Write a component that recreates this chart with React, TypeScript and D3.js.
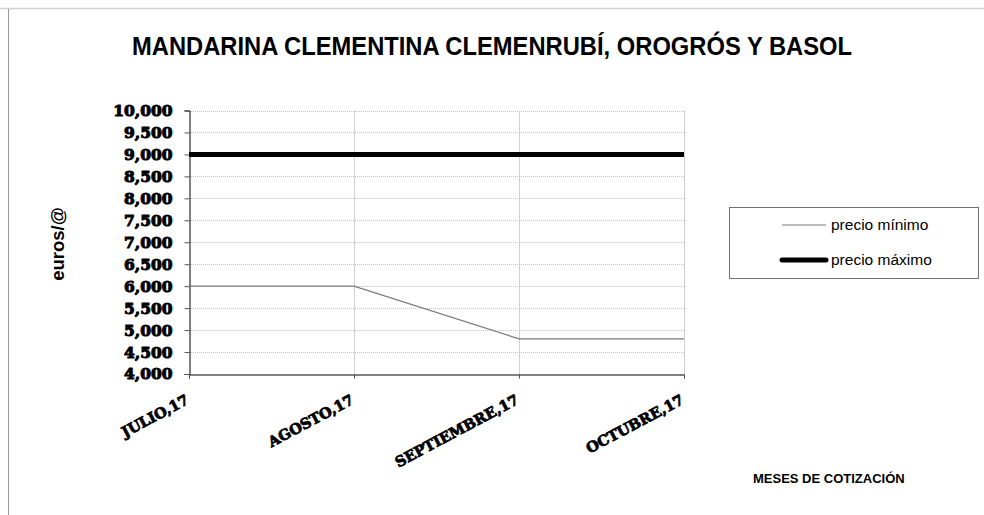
import React, { useEffect, useRef } from 'react';
import * as d3 from 'd3';

const months = ['JULIO,17', 'AGOSTO,17', 'SEPTIEMBRE,17', 'OCTUBRE,17'];
const precioMinimo = [6000, 6000, 4800, 4800];
const precioMaximo = [9000, 9000, 9000, 9000];
const yTicks = [4000, 4500, 5000, 5500, 6000, 6500, 7000, 7500, 8000, 8500, 9000, 9500, 10000];

const W = 984;
const H = 515;
const margin = { left: 189, right: 300, top: 110.5, bottom: 141 };

const fmt = d3.format(',');

const App = () => {
  const svgRef = useRef<SVGSVGElement>(null);

  useEffect(() => {
    if (!svgRef.current) return;
    const svg = d3.select(svgRef.current);
    svg.selectAll('*').remove();

    const x = d3.scalePoint<string>().domain(months).range([margin.left, W - margin.right]);
    const y = d3.scaleLinear().domain([4000, 10000]).range([H - margin.bottom, margin.top]);

    // chart area border
    svg.append('line').attr('x1', 0).attr('x2', W).attr('y1', 8.5).attr('y2', 8.5)
      .attr('stroke', '#d0d0d0').attr('stroke-width', 1.5);
    svg.append('line').attr('x1', 8.5).attr('x2', 8.5).attr('y1', 9).attr('y2', H)
      .attr('stroke', '#9a9a9a').attr('stroke-width', 1);

    // title
    svg.append('text')
      .attr('x', 492).attr('y', 55)
      .attr('text-anchor', 'middle')
      .attr('font-family', '"Liberation Sans", Arial, sans-serif')
      .attr('font-weight', 'bold')
      .attr('font-size', 25)
      .attr('textLength', 720)
      .attr('lengthAdjust', 'spacingAndGlyphs')
      .text('MANDARINA CLEMENTINA CLEMENRUBÍ, OROGRÓS Y BASOL');

    // horizontal dotted gridlines
    svg.append('g').selectAll('line').data(yTicks.slice(1)).enter().append('line')
      .attr('x1', margin.left).attr('x2', W - margin.right)
      .attr('y1', d => Math.round(y(d)) + 0.5).attr('y2', d => Math.round(y(d)) + 0.5)
      .attr('stroke', '#c4c4c4').attr('stroke-dasharray', '1,1');

    // vertical gridlines
    svg.append('g').selectAll('line').data(months.slice(1)).enter().append('line')
      .attr('x1', d => Math.round(x(d)!) + 0.5).attr('x2', d => Math.round(x(d)!) + 0.5)
      .attr('y1', margin.top).attr('y2', H - margin.bottom)
      .attr('stroke', '#d0d0d0');

    // y axis
    const yAxis = svg.append('g').attr('transform', `translate(${margin.left + 0.5},0)`)
      .call(d3.axisLeft(y).tickValues(yTicks).tickSize(5).tickPadding(12).tickFormat(d => fmt(d as number)));
    yAxis.select('.domain').attr('stroke', '#000');
    yAxis.selectAll('.tick line').attr('stroke', '#555');
    yAxis.selectAll('text')
      .attr('font-family', '"DejaVu Serif", serif')
      .attr('font-weight', 'bold')
      .attr('font-size', 15.5)
      .attr('fill', '#000')
      .attr('stroke', '#000').attr('stroke-width', 1);

    // x axis
    const xAxis = svg.append('g').attr('transform', `translate(0,${H - margin.bottom + 0.5})`)
      .call(d3.axisBottom(x).tickSize(4).tickFormat(() => ''));
    xAxis.select('.domain').attr('stroke', '#000');
    xAxis.selectAll('.tick line').attr('stroke', '#555');

    svg.append('g').selectAll('text').data(months).enter().append('text')
      .attr('transform', d => `translate(${x(d)! + 1},${H - margin.bottom + 29}) rotate(-28)`)
      .attr('text-anchor', 'end')
      .attr('font-family', '"DejaVu Serif", serif')
      .attr('font-weight', 'bold')
      .attr('font-size', 14.5)
      .attr('stroke', '#000').attr('stroke-width', 0.8)
      .text(d => d);

    const line = d3.line<number>().x((_, i) => x(months[i])!).y(d => y(d));

    svg.append('path').datum(precioMinimo).attr('d', line)
      .attr('fill', 'none').attr('stroke', '#7a7a7a').attr('stroke-width', 1.2);
    svg.append('path').datum(precioMaximo).attr('d', line)
      .attr('fill', 'none').attr('stroke', '#000').attr('stroke-width', 5);

    // y title
    svg.append('text')
      .attr('transform', 'translate(64,244) rotate(-90)')
      .attr('text-anchor', 'middle')
      .attr('font-family', '"Liberation Sans", Arial, sans-serif')
      .attr('font-weight', 'bold')
      .attr('font-size', 18.5)
      .text('euros/@');

    // x title
    svg.append('text')
      .attr('x', 753).attr('y', 483)
      .attr('font-family', '"Liberation Sans", Arial, sans-serif')
      .attr('font-weight', 'bold')
      .attr('font-size', 13)
      .text('MESES DE COTIZACIÓN');

    // legend
    const lg = svg.append('g');
    lg.append('rect').attr('x', 729.5).attr('y', 207.5).attr('width', 249).attr('height', 71)
      .attr('fill', '#fff').attr('stroke', '#707070');
    const items = [
      { label: 'precio mínimo', color: '#7a7a7a', w: 1.2, y: 225 },
      { label: 'precio máximo', color: '#000', w: 5, y: 260 },
    ];
    items.forEach(it => {
      lg.append('line').attr('x1', 782).attr('x2', 826).attr('y1', it.y).attr('y2', it.y)
        .attr('stroke', it.color).attr('stroke-width', it.w).attr('stroke-linecap', it.w > 2 ? 'round' : 'butt');
      lg.append('text').attr('x', 831).attr('y', it.y + 5)
        .attr('font-family', '"Liberation Sans", Arial, sans-serif')
        .attr('font-size', 15.5)
        .text(it.label);
    });
  }, []);

  return (
    <svg ref={svgRef} width={W} height={H}
      style={{ position: 'absolute', left: 0, top: 0, background: '#fff', display: 'block' }} />
  );
};

export default App;
